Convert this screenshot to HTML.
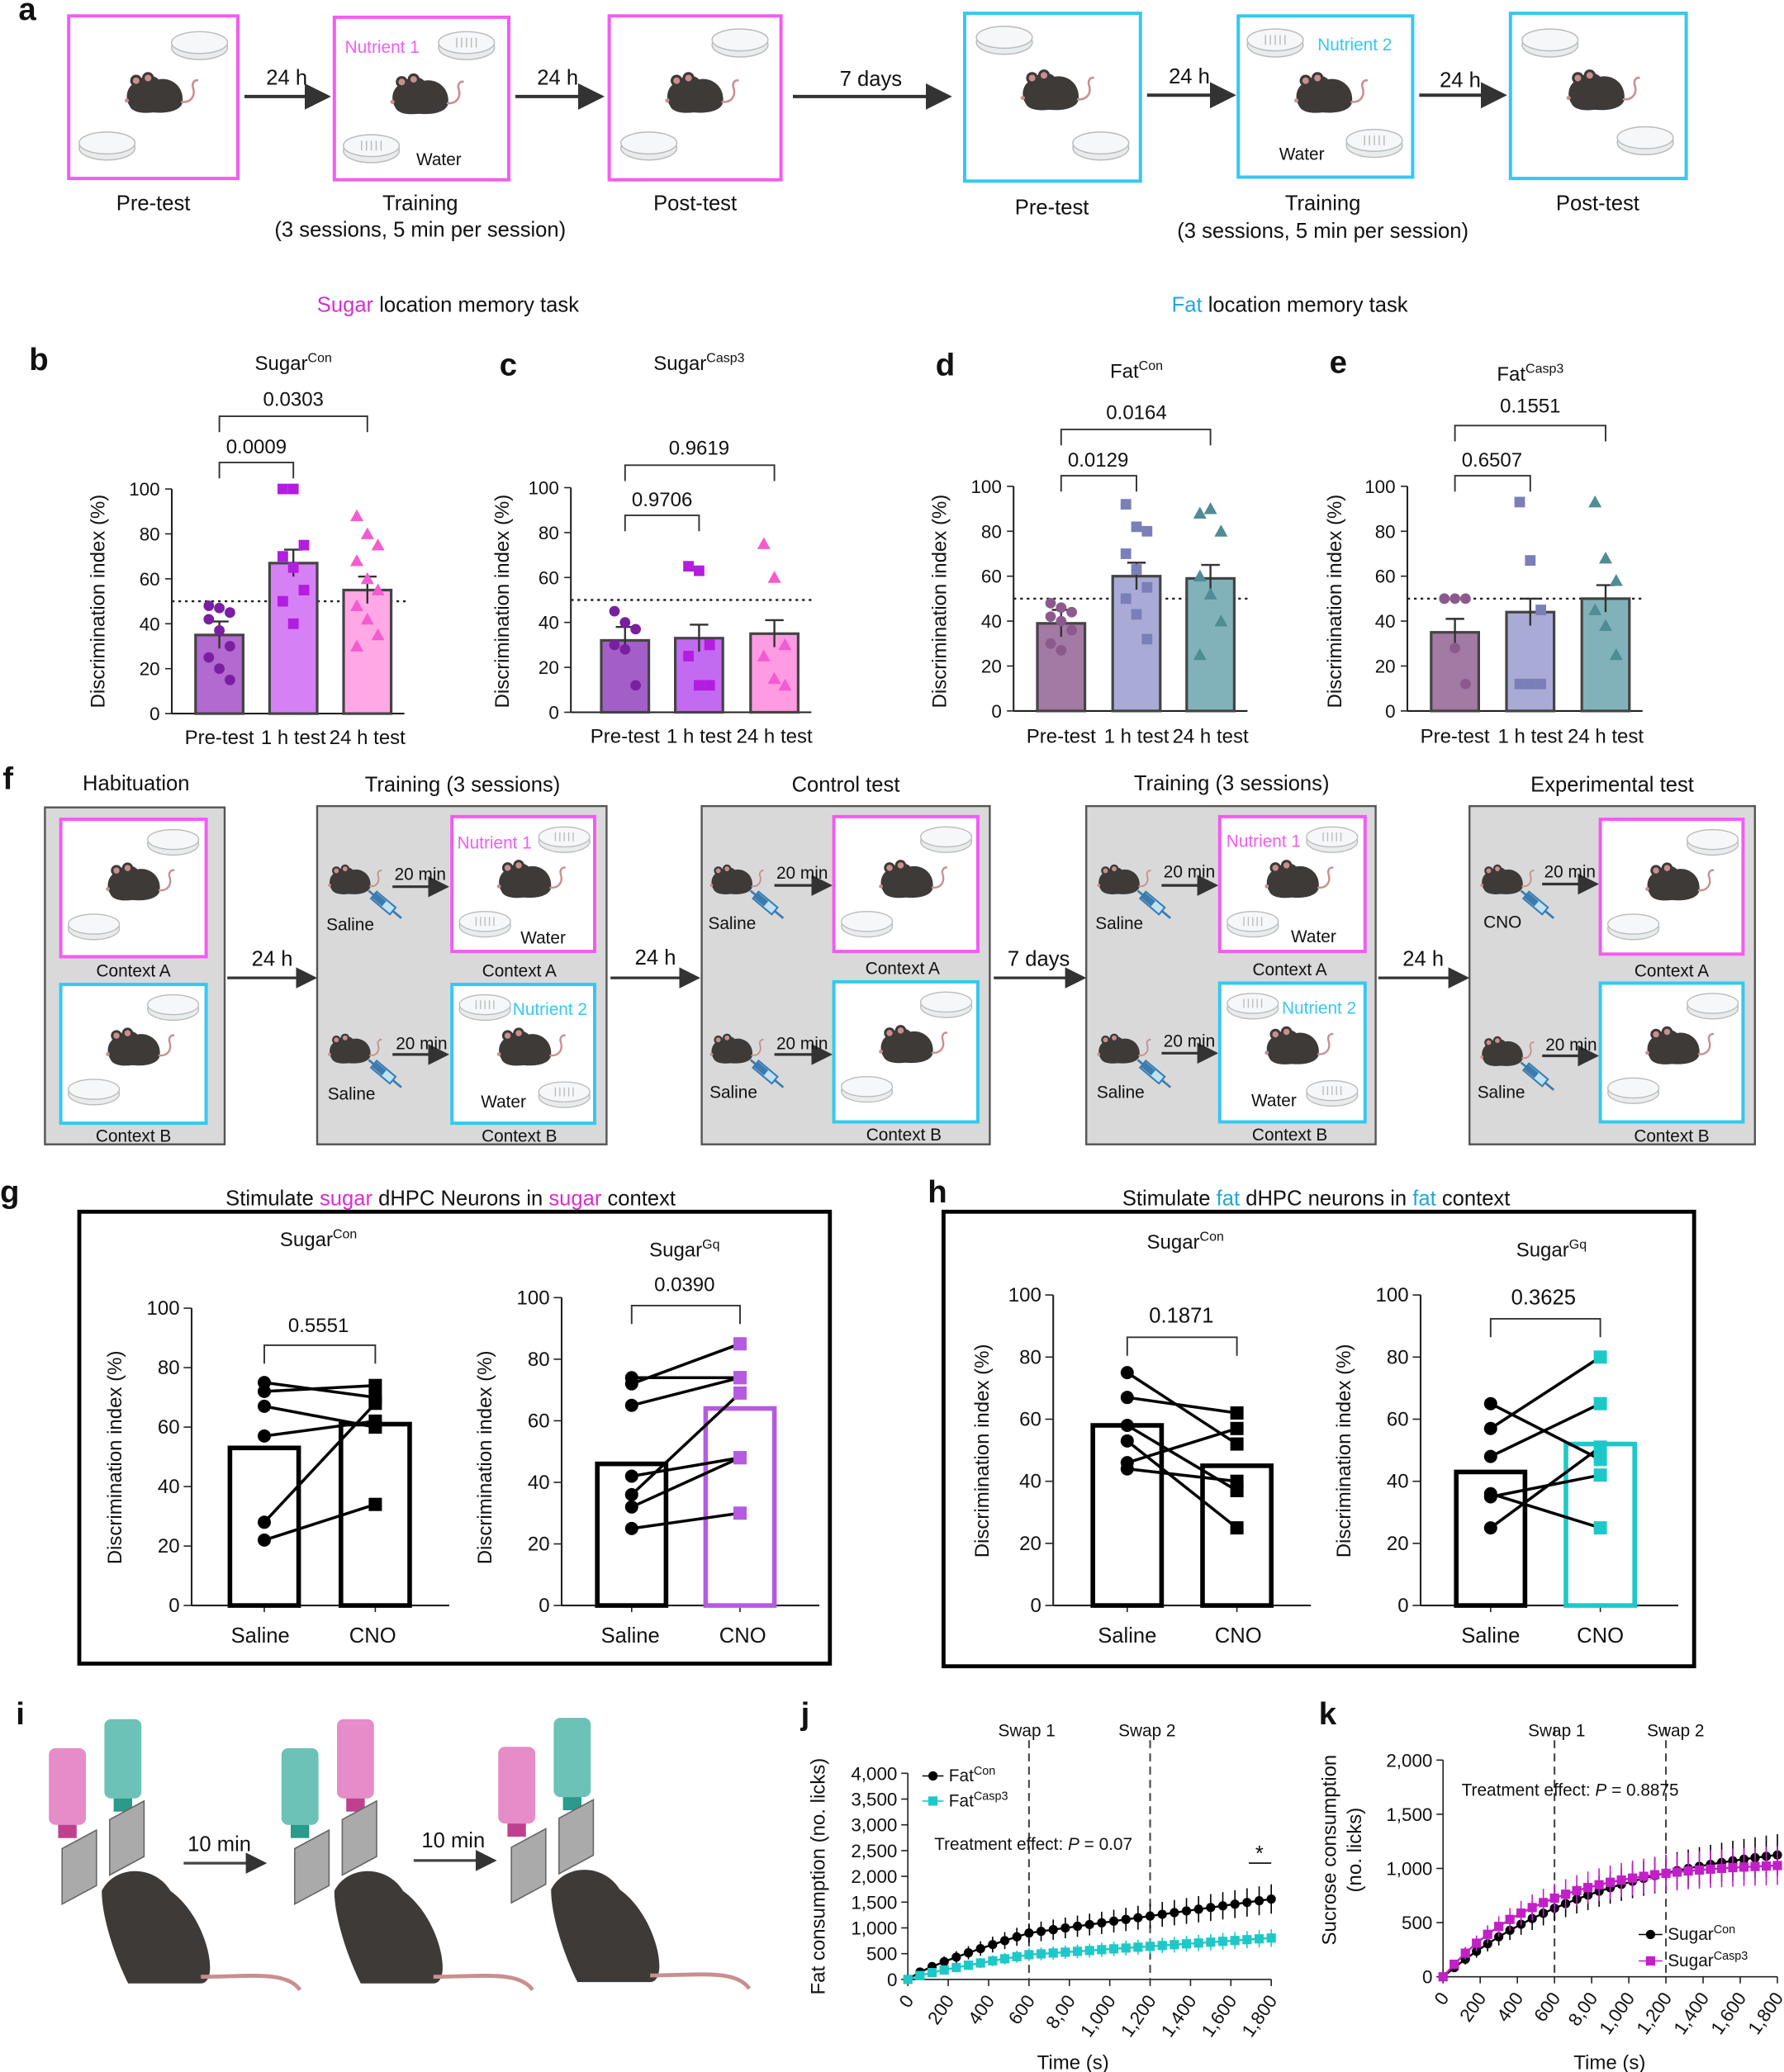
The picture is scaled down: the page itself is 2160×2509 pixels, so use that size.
<!DOCTYPE html>
<html><head><meta charset="utf-8">
<style>
html,body{margin:0;padding:0;background:#fff;}
svg{display:block;}
text{font-family:"Liberation Sans",Arial,sans-serif;fill:#111;}
.p{font-weight:bold;font-size:24px;}
.t{font-size:15px;}
.s{font-size:13px;}
.m{font-size:16px;}
</style></head><body>
<svg id="S" width="2160" height="2509" viewBox="0 0 1350 1568" xmlns="http://www.w3.org/2000/svg">
<defs>
<symbol id="mouse" viewBox="0 0 60 40">
 <path d="M8 28 C4 22 6 12 14 10 C18 4 26 4 30 8 C40 6 50 14 48 26 C46 32 36 34 26 33 C18 34 10 33 8 28Z" fill="#3d3a38"/>
 <circle cx="13" cy="9" r="4.5" fill="#3d3a38"/><circle cx="13" cy="9" r="2.5" fill="#c98f8f"/>
 <circle cx="22" cy="7" r="4.5" fill="#3d3a38"/><circle cx="22" cy="7" r="2.5" fill="#c98f8f"/>
 <path d="M47 25 C55 26 58 20 56 14 C55 10 58 8 60 9" fill="none" stroke="#c98f8f" stroke-width="1.6"/>
 <circle cx="6" cy="24" r="1.6" fill="#c98f8f"/>
</symbol>
<symbol id="dish" viewBox="0 0 50 26">
 <ellipse cx="25" cy="15" rx="23" ry="10" fill="#e9eced" stroke="#bbb"/>
 <ellipse cx="25" cy="11" rx="23" ry="9" fill="#f6f7f8" stroke="#bbb"/>
</symbol>
<symbol id="dishg" viewBox="0 0 50 26">
 <ellipse cx="25" cy="15" rx="23" ry="10" fill="#e9eced" stroke="#bbb"/>
 <ellipse cx="25" cy="11" rx="23" ry="9" fill="#f6f7f8" stroke="#bbb"/>
 <g stroke="#bbb" stroke-width="1"><line x1="17" y1="7" x2="17" y2="15"/><line x1="21" y1="7" x2="21" y2="15"/><line x1="25" y1="7" x2="25" y2="15"/><line x1="29" y1="7" x2="29" y2="15"/><line x1="33" y1="7" x2="33" y2="15"/></g>
</symbol>
<symbol id="syr" viewBox="0 0 40 30">
 <g transform="rotate(40 20 15)"><rect x="6" y="11" width="22" height="8" fill="#bfe3f5" stroke="#3a7bb0" stroke-width="1.5"/><rect x="6" y="12" width="12" height="6" fill="#3a7bb0"/><line x1="28" y1="15" x2="38" y2="15" stroke="#3a7bb0" stroke-width="2"/><line x1="0" y1="15" x2="6" y2="15" stroke="#3a7bb0" stroke-width="2"/></g>
</symbol>
<marker id="ar" markerWidth="8" markerHeight="8" refX="7" refY="4" orient="auto"><path d="M0 0 L8 4 L0 8Z" fill="#333"/></marker>
</defs>

<!-- PANEL A -->
<g fill="none" stroke-width="2.5">
<rect x="52" y="12" width="128" height="123" stroke="#f25cf0"/>
<rect x="253" y="13" width="132" height="123" stroke="#f25cf0"/>
<rect x="461" y="12" width="130" height="124" stroke="#f25cf0"/>
<rect x="730" y="10" width="133" height="127" stroke="#35c8f0"/>
<rect x="937" y="12" width="132" height="122" stroke="#35c8f0"/>
<rect x="1143" y="10" width="133" height="125" stroke="#35c8f0"/>
</g>
<!-- PANEL F boxes -->
<g fill="#d9d9d9" stroke="#555" stroke-width="1.5">
<rect x="34" y="611" width="136" height="255"/><rect x="240" y="610" width="219" height="256"/>
<rect x="531" y="610" width="218" height="256"/><rect x="822" y="610" width="219" height="256"/>
<rect x="1112" y="610" width="216" height="256"/>
</g>
<g fill="#fff" stroke-width="2.5">
<rect x="46" y="620" width="110" height="104" stroke="#f25cf0"/><rect x="46" y="745" width="110" height="105" stroke="#35c8f0"/>
<rect x="342" y="618" width="108" height="102" stroke="#f25cf0"/><rect x="342" y="745" width="108" height="105" stroke="#35c8f0"/>
<rect x="631" y="618" width="109" height="102" stroke="#f25cf0"/><rect x="631" y="743" width="109" height="106" stroke="#35c8f0"/>
<rect x="923" y="618" width="110" height="102" stroke="#f25cf0"/><rect x="923" y="744" width="110" height="105" stroke="#35c8f0"/>
<rect x="1211" y="620" width="108" height="102" stroke="#f25cf0"/><rect x="1211" y="744" width="108" height="105" stroke="#35c8f0"/>
</g>
<g id="G"></g>

<text class="p" x="14" y="15">a</text>
<g stroke="#333" stroke-width="2.5" marker-end="url(#ar)">
<line x1="185" y1="73" x2="248" y2="73"/><line x1="390" y1="73" x2="455" y2="73"/>
<line x1="600" y1="73" x2="718" y2="73"/><line x1="868" y1="72" x2="933" y2="72"/><line x1="1074" y1="72" x2="1138" y2="72"/>
</g>
<text class="m" x="217" y="64" text-anchor="middle">24 h</text>
<text class="m" x="422" y="64" text-anchor="middle">24 h</text>
<text class="m" x="659" y="65" text-anchor="middle">7 days</text>
<text class="m" x="900" y="63" text-anchor="middle">24 h</text>
<text class="m" x="1105" y="66" text-anchor="middle">24 h</text>
<text class="s" x="261" y="40" style="fill:#f25cf0">Nutrient 1</text>
<text class="s" x="315" y="125">Water</text>
<text class="s" x="997" y="38" style="fill:#35c8f0">Nutrient 2</text>
<text class="s" x="968" y="121">Water</text>
<text class="m" x="116" y="159" text-anchor="middle">Pre-test</text>
<text class="m" x="318" y="159" text-anchor="middle">Training</text>
<text class="m" x="318" y="179" text-anchor="middle">(3 sessions, 5 min per session)</text>
<text class="m" x="526" y="159" text-anchor="middle">Post-test</text>
<text class="m" x="796" y="162" text-anchor="middle">Pre-test</text>
<text class="m" x="1001" y="159" text-anchor="middle">Training</text>
<text class="m" x="1001" y="180" text-anchor="middle">(3 sessions, 5 min per session)</text>
<text class="m" x="1209" y="159" text-anchor="middle">Post-test</text>
<text class="m" x="339" y="236" text-anchor="middle"><tspan style="fill:#d62fd0">Sugar</tspan> location memory task</text>
<text class="m" x="976" y="236" text-anchor="middle"><tspan style="fill:#1fa8d8">Fat</tspan> location memory task</text>

<!-- PANELS B-E static text -->
<text class="p" x="22" y="280">b</text><text class="p" x="378" y="284">c</text>
<text class="p" x="708" y="284">d</text><text class="p" x="1006" y="282">e</text>
<text class="t" x="222" y="280" text-anchor="middle">Sugar<tspan dy="-6" font-size="10">Con</tspan></text>
<text class="t" x="529" y="280" text-anchor="middle">Sugar<tspan dy="-6" font-size="10">Casp3</tspan></text>
<text class="t" x="860" y="286" text-anchor="middle">Fat<tspan dy="-6" font-size="10">Con</tspan></text>
<text class="t" x="1158" y="288" text-anchor="middle">Fat<tspan dy="-6" font-size="10">Casp3</tspan></text>
<text class="t" x="194" y="343" text-anchor="middle">0.0009</text><text class="t" x="222" y="307" text-anchor="middle">0.0303</text>
<text class="t" x="501" y="383" text-anchor="middle">0.9706</text><text class="t" x="529" y="344" text-anchor="middle">0.9619</text>
<text class="t" x="831" y="353" text-anchor="middle">0.0129</text><text class="t" x="860" y="317" text-anchor="middle">0.0164</text>
<text class="t" x="1129" y="353" text-anchor="middle">0.6507</text><text class="t" x="1158" y="312" text-anchor="middle">0.1551</text>
<g class="t" text-anchor="middle">
<text x="166" y="563" class="t">Pre-test</text><text x="222" y="563" class="t">1 h test</text><text x="278" y="563" class="t">24 h test</text>
<text x="473" y="562" class="t">Pre-test</text><text x="529" y="562" class="t">1 h test</text><text x="586" y="562" class="t">24 h test</text>
<text x="803" y="562" class="t">Pre-test</text><text x="860" y="562" class="t">1 h test</text><text x="916" y="562" class="t">24 h test</text>
<text x="1101" y="562" class="t">Pre-test</text><text x="1158" y="562" class="t">1 h test</text><text x="1215" y="562" class="t">24 h test</text>
</g>
<text class="t" transform="translate(79 455) rotate(-90)" text-anchor="middle">Discrimination index (%)</text>
<text class="t" transform="translate(385 455) rotate(-90)" text-anchor="middle">Discrimination index (%)</text>
<text class="t" transform="translate(716 455) rotate(-90)" text-anchor="middle">Discrimination index (%)</text>
<text class="t" transform="translate(1015 455) rotate(-90)" text-anchor="middle">Discrimination index (%)</text>

<!-- PANEL F -->
<text class="p" x="2" y="597">f</text>
<text class="m" x="103" y="598" text-anchor="middle">Habituation</text>
<text class="m" x="350" y="599" text-anchor="middle">Training (3 sessions)</text>
<text class="m" x="640" y="599" text-anchor="middle">Control test</text>
<text class="m" x="932" y="598" text-anchor="middle">Training (3 sessions)</text>
<text class="m" x="1220" y="599" text-anchor="middle">Experimental test</text>
<g stroke="#333" stroke-width="2" marker-end="url(#ar)">
<line x1="172" y1="740" x2="238" y2="740"/><line x1="462" y1="740" x2="528" y2="740"/>
<line x1="752" y1="740" x2="820" y2="740"/><line x1="1043" y1="740" x2="1110" y2="740"/>
<line x1="297" y1="671" x2="338" y2="671"/><line x1="297" y1="798" x2="338" y2="798"/>
<line x1="586" y1="670" x2="628" y2="670"/><line x1="586" y1="798" x2="628" y2="798"/>
<line x1="879" y1="670" x2="920" y2="670"/><line x1="879" y1="797" x2="920" y2="797"/>
<line x1="1167" y1="669" x2="1208" y2="669"/><line x1="1167" y1="799" x2="1208" y2="799"/>
</g>
<text class="m" x="206" y="731" text-anchor="middle">24 h</text><text class="m" x="496" y="730" text-anchor="middle">24 h</text>
<text class="m" x="786" y="731" text-anchor="middle">7 days</text><text class="m" x="1077" y="731" text-anchor="middle">24 h</text>
<g class="s" text-anchor="middle">
<text x="101" y="739" class="s">Context A</text><text x="101" y="864" class="s">Context B</text>
<text x="393" y="739" class="s">Context A</text><text x="393" y="864" class="s">Context B</text>
<text x="683" y="737" class="s">Context A</text><text x="684" y="863" class="s">Context B</text>
<text x="976" y="738" class="s">Context A</text><text x="976" y="863" class="s">Context B</text>
<text x="1265" y="739" class="s">Context A</text><text x="1265" y="864" class="s">Context B</text>
<text x="318" y="666" class="s">20 min</text><text x="319" y="794" class="s">20 min</text>
<text x="607" y="665" class="s">20 min</text><text x="607" y="794" class="s">20 min</text>
<text x="900" y="664" class="s">20 min</text><text x="900" y="792" class="s">20 min</text>
<text x="1188" y="664" class="s">20 min</text><text x="1189" y="795" class="s">20 min</text>
<text x="265" y="704" class="s">Saline</text><text x="266" y="832" class="s">Saline</text>
<text x="554" y="703" class="s">Saline</text><text x="555" y="831" class="s">Saline</text>
<text x="847" y="703" class="s">Saline</text><text x="848" y="831" class="s">Saline</text>
<text x="1137" y="702" class="s">CNO</text><text x="1136" y="831" class="s">Saline</text>
<text x="411" y="714" class="s">Water</text><text x="381" y="838" class="s">Water</text>
<text x="994" y="713" class="s">Water</text><text x="964" y="837" class="s">Water</text>
</g>
<text class="s" x="346" y="642" style="fill:#f25cf0">Nutrient 1</text>
<text class="s" x="388" y="768" style="fill:#35c8f0">Nutrient 2</text>
<text class="s" x="928" y="641" style="fill:#f25cf0">Nutrient 1</text>
<text class="s" x="970" y="767" style="fill:#35c8f0">Nutrient 2</text>

<!-- PANEL G/H -->
<text class="p" x="0" y="910">g</text><text class="p" x="702" y="910">h</text>
<text class="m" x="341" y="912" text-anchor="middle">Stimulate <tspan style="fill:#d62fd0">sugar</tspan> dHPC Neurons in <tspan style="fill:#d62fd0">sugar</tspan> context</text>
<text class="m" x="996" y="912" text-anchor="middle">Stimulate <tspan style="fill:#1fa8d8">fat</tspan> dHPC neurons in <tspan style="fill:#1fa8d8">fat</tspan> context</text>
<rect x="60" y="917" width="568" height="342" fill="none" stroke="#000" stroke-width="3"/>
<rect x="714" y="917" width="568" height="344" fill="none" stroke="#000" stroke-width="3"/>
<text class="t" x="241" y="943" text-anchor="middle">Sugar<tspan dy="-6" font-size="10">Con</tspan></text>
<text class="t" x="518" y="951" text-anchor="middle">Sugar<tspan dy="-6" font-size="10">Gq</tspan></text>
<text class="t" x="897" y="945" text-anchor="middle">Sugar<tspan dy="-6" font-size="10">Con</tspan></text>
<text class="t" x="1174" y="951" text-anchor="middle">Sugar<tspan dy="-6" font-size="10">Gq</tspan></text>
<text class="t" x="241" y="1008" text-anchor="middle">0.5551</text>
<text class="t" x="518" y="977" text-anchor="middle">0.0390</text>
<text class="m" x="894" y="1001" text-anchor="middle">0.1871</text>
<text class="m" x="1168" y="987" text-anchor="middle">0.3625</text>
<g class="m" text-anchor="middle">
<text x="197" y="1243" class="m">Saline</text><text x="282" y="1243" class="m">CNO</text>
<text x="477" y="1243" class="m">Saline</text><text x="562" y="1243" class="m">CNO</text>
<text x="853" y="1243" class="m">Saline</text><text x="937" y="1243" class="m">CNO</text>
<text x="1128" y="1243" class="m">Saline</text><text x="1211" y="1243" class="m">CNO</text>
</g>
<text class="t" transform="translate(92 1103) rotate(-90)" text-anchor="middle">Discrimination index (%)</text>
<text class="t" transform="translate(372 1103) rotate(-90)" text-anchor="middle">Discrimination index (%)</text>
<text class="t" transform="translate(748 1098) rotate(-90)" text-anchor="middle">Discrimination index (%)</text>
<text class="t" transform="translate(1022 1098) rotate(-90)" text-anchor="middle">Discrimination index (%)</text>

<!-- PANEL I -->
<text class="p" x="12" y="1305">i</text>
<text class="m" x="166" y="1401" text-anchor="middle">10 min</text>
<text class="m" x="343" y="1398" text-anchor="middle">10 min</text>
<g stroke="#444" stroke-width="2" marker-end="url(#ar)"><line x1="139" y1="1410" x2="200" y2="1410"/><line x1="313" y1="1408" x2="374" y2="1408"/></g>

<!-- PANEL J -->
<text class="p" x="606" y="1305">j</text>
<text class="s" x="777" y="1314" text-anchor="middle">Swap 1</text><text class="s" x="868" y="1314" text-anchor="middle">Swap 2</text>
<text class="t" x="624" y="1420" transform="rotate(-90 624 1420)" text-anchor="middle">Fat consumption (no. licks)</text>
<text class="s" x="707" y="1400">Treatment effect: <tspan font-style="italic">P</tspan> = 0.07</text>
<text class="s" x="718" y="1348">Fat<tspan dy="-5" font-size="9">Con</tspan></text>
<text class="s" x="718" y="1367">Fat<tspan dy="-5" font-size="9">Casp3</tspan></text>
<text class="m" x="953" y="1408" text-anchor="middle">*</text>
<text class="t" x="812" y="1566" text-anchor="middle">Time (s)</text>

<!-- PANEL K -->
<text class="p" x="998" y="1305">k</text>
<text class="s" x="1178" y="1314" text-anchor="middle">Swap 1</text><text class="s" x="1268" y="1314" text-anchor="middle">Swap 2</text>
<text class="t" x="1011" y="1400" transform="rotate(-90 1011 1400)" text-anchor="middle">Sucrose consumption</text>
<text class="t" x="1030" y="1400" transform="rotate(-90 1030 1400)" text-anchor="middle">(no. licks)</text>
<text class="s" x="1106" y="1359">Treatment effect: <tspan font-style="italic">P</tspan> = 0.8875</text>
<text class="s" x="1262" y="1468">Sugar<tspan dy="-5" font-size="9">Con</tspan></text>
<text class="s" x="1262" y="1488">Sugar<tspan dy="-5" font-size="9">Casp3</tspan></text>
<text class="t" x="1218" y="1566" text-anchor="middle">Time (s)</text>
</svg>
<script>
var G=document.getElementById('G'),NS='http://www.w3.org/2000/svg';
function el(t,a,p){var e=document.createElementNS(NS,t);for(var k in a)e.setAttribute(k,a[k]);(p||G).appendChild(e);return e;}
function use(id,x,y,w,h){el('use',{href:'#'+id,x:x,y:y,width:w,height:h});}
[[52,12],[253,13],[461,12],[730,10],[937,12],[1143,10]].forEach(function(b){use('mouse',b[0]+38,b[1]+40,60,40);});
use('dish',128,22,46,24);use('dish',58,98,46,24);
use('dishg',330,22,46,24);use('dishg',258,100,46,24);
use('dish',537,20,46,24);use('dish',468,98,46,24);
use('dish',737,18,46,24);use('dish',810,98,46,24);
use('dishg',942,20,46,24);use('dishg',1017,96,46,24);
use('dish',1150,20,46,24);use('dish',1222,94,46,24);
function box(x,y,g,flip){use('mouse',x+30,y+30,56,38);
 if(flip){use(g?'dishg':'dish',x+4,y+6,42,22);use(g?'dishg':'dish',x+64,y+72,42,22);}
 else{use(g?'dishg':'dish',x+64,y+6,42,22);use(g?'dishg':'dish',x+4,y+70,42,22);}}
box(46,620);box(46,745);box(342,618,1);box(342,745,1,1);box(631,618);box(631,743);
box(923,618,1);box(923,744,1,1);box(1211,620);box(1211,744);
[[245,652],[245,780],[534,652],[534,780],[827,652],[827,780],[1117,652],[1117,782]].forEach(function(p){use('mouse',p[0],p[1],44,30);use('syr',p[0]+30,p[1]+20,34,26);});
function tl(x,y,s,a,fs){var t=el('text',{x:x,y:y,'text-anchor':a||'end','font-size':fs||14});t.textContent=s;}
function bars(ax,y0,xs,vals,cols,pts,shapes,br){
 var sc=1.7;
 el('line',{x1:ax,y1:y0-170,x2:ax,y2:y0,stroke:'#222','stroke-width':1.3});
 el('line',{x1:ax,y1:y0,x2:xs[2]+28,y2:y0,stroke:'#222','stroke-width':1.3});
 for(var v=0;v<=100;v+=20){var y=y0-v*sc;el('line',{x1:ax-5,y1:y,x2:ax,y2:y,stroke:'#222'});tl(ax-9,y+5,''+v);}
 el('line',{x1:ax,y1:y0-85,x2:xs[2]+30,y2:y0-85,stroke:'#222','stroke-dasharray':'2,3','stroke-width':1.5});
 for(var i=0;i<3;i++){
  var h=vals[i]*sc;el('rect',{x:xs[i]-18,y:y0-h,width:36,height:h,fill:cols[i][0],stroke:'#444','stroke-width':2});
  var se=6*sc;el('line',{x1:xs[i],y1:y0-h-se,x2:xs[i],y2:y0-h+se,stroke:'#333','stroke-width':1.5});
  el('line',{x1:xs[i]-7,y1:y0-h-se,x2:xs[i]+7,y2:y0-h-se,stroke:'#333','stroke-width':1.5});
  pts[i].forEach(function(p,j){var x=xs[i]+((j%3)-1)*8,y=y0-p*sc;
   if(shapes[i]==0)el('circle',{cx:x,cy:y,r:4,fill:cols[i][1]});
   else if(shapes[i]==1)el('rect',{x:x-4,y:y-4,width:8,height:8,fill:cols[i][1]});
   else el('path',{d:'M'+x+' '+(y-5)+' L'+(x+5)+' '+(y+4)+' L'+(x-5)+' '+(y+4)+'Z',fill:cols[i][1]});});
 }
 br.forEach(function(b){el('polyline',{points:b[0]+','+(b[2]+12)+' '+b[0]+','+b[2]+' '+b[1]+','+b[2]+' '+b[1]+','+(b[2]+12),fill:'none',stroke:'#333','stroke-width':1.2});});
}
bars(130,540,[166,222,278],[35,67,55],[['#b36ad0','#7a1fa2'],['#d680f5','#b21de0'],['#ffa8e5','#f25cd0']],
 [[48,47,45,42,37,30,25,20,15],[100,100,75,70,65,55,50,40],[88,80,75,68,60,55,48,42,35,30]],[0,1,2],
 [[166,222,350],[166,278,315]]);
bars(432,539,[473,529,586],[32,33,35],[['#a35fc7','#7a1fa2'],['#c36bf0','#b21de0'],['#ff9be2','#f25cd0']],
 [[45,40,37,30,28,12],[65,63,30,25,12,12],[75,60,30,25,15,12]],[0,1,2],[[473,529,390],[473,586,352]]);
bars(767,538,[803,860,916],[39,60,59],[['#a27aa3','#8b5a8c'],['#a9abd6','#7b7fb8'],['#82b2b9','#4f8c94']],
 [[48,46,44,42,40,36,30,27],[92,82,80,70,63,55,50,43,32],[88,90,80,60,52,40,25]],[0,1,2],[[803,860,360],[803,916,325]]);
bars(1065,538,[1101,1158,1215],[35,44,50],[['#a27aa3','#8b5a8c'],['#a9abd6','#7b7fb8'],['#82b2b9','#4f8c94']],
 [[50,50,50,50,28,12],[93,67,45,12,12,12],[93,68,58,45,38,25]],[0,1,2],[[1101,1158,360],[1101,1215,322]]);
function paired(ax,y0,ytop,xs,vals,col2,sal,cno,br){
 var sc=(y0-ytop)/100;
 el('line',{x1:ax,y1:ytop,x2:ax,y2:y0,stroke:'#222','stroke-width':1.3});
 el('line',{x1:ax,y1:y0,x2:ax+195,y2:y0,stroke:'#222','stroke-width':1.3});
 for(var v=0;v<=100;v+=20){var y=y0-v*sc;el('line',{x1:ax-6,y1:y,x2:ax,y2:y,stroke:'#222'});tl(ax-9,y+5,''+v,'end',15);}
 xs.forEach(function(x){el('line',{x1:x,y1:y0,x2:x,y2:y0+5,stroke:'#222'});});
 el('rect',{x:xs[0]-26,y:y0-vals[0]*sc,width:52,height:vals[0]*sc,fill:'none',stroke:'#000','stroke-width':3.5});
 el('rect',{x:xs[1]-26,y:y0-vals[1]*sc,width:52,height:vals[1]*sc,fill:'none',stroke:col2,'stroke-width':3.5});
 sal.forEach(function(s,i){el('line',{x1:xs[0],y1:y0-s*sc,x2:xs[1],y2:y0-cno[i]*sc,stroke:'#000','stroke-width':2.2});});
 sal.forEach(function(s){el('circle',{cx:xs[0],cy:y0-s*sc,r:5,fill:'#000'});});
 cno.forEach(function(c){el('rect',{x:xs[1]-5,y:y0-c*sc-5,width:10,height:10,fill:col2});});
 el('polyline',{points:xs[0]+','+(br+14)+' '+xs[0]+','+br+' '+xs[1]+','+br+' '+xs[1]+','+(br+14),fill:'none',stroke:'#333','stroke-width':1.2});
}
paired(145,1215,990,[200,284],[53,61],'#000',[75,72,67,57,28,22],[70,74,60,62,68,34],1018);
paired(425,1215,982,[478,560],[46,64],'#b45be0',[74,72,65,42,36,32,25],[74,85,74,48,69,48,30],988);
paired(797,1215,980,[853,936],[58,45],'#000',[75,67,58,53,46,44],[52,62,37,25,57,40],1012);
paired(1075,1215,980,[1128,1211],[43,52],'#1ec8c8',[65,57,48,36,35,25],[47,80,65,25,42,51],998);
function station(x,y,first){
 var c1=first?'#e68cc8':'#6cc2b6',c2=first?'#6cc2b6':'#e68cc8';
 el('rect',{x:x,y:y+22,width:28,height:58,rx:5,fill:c1});el('rect',{x:x+7,y:y+80,width:14,height:10,fill:first?'#c04090':'#2a9a8a'});
 el('rect',{x:x+42,y:y,width:28,height:60,rx:5,fill:c2});el('rect',{x:x+49,y:y+60,width:14,height:10,fill:first?'#2a9a8a':'#c04090'});
 el('path',{d:'M'+(x+10)+' '+(y+98)+' l26 -14 v42 l-26 14z',fill:'#aaa',stroke:'#666'});
 el('path',{d:'M'+(x+46)+' '+(y+76)+' l26 -14 v42 l-26 14z',fill:'#aaa',stroke:'#666'});
 el('path',{d:'M'+(x+40)+' '+(y+130)+' C'+(x+50)+' '+(y+110)+' '+(x+80)+' '+(y+110)+' '+(x+92)+' '+(y+130)+' C'+(x+120)+' '+(y+150)+' '+(x+130)+' '+(y+200)+' '+(x+115)+' '+(y+200)+' L'+(x+60)+' '+(y+200)+' C'+(x+50)+' '+(y+180)+' '+(x+40)+' '+(y+150)+' '+(x+40)+' '+(y+130)+'Z',fill:'#3d3a38'});
 el('path',{d:'M'+(x+115)+' '+(y+195)+' C'+(x+150)+' '+(y+195)+' '+(x+180)+' '+(y+190)+' '+(x+190)+' '+(y+205),fill:'none',stroke:'#c98f8f','stroke-width':3});
}
station(37,1301,true);station(213,1301,false);station(377,1300,true);
function lc(ax,y0,ytop,xr,ymax,ystep,labs,s1,s2,c2,swap){
 var sc=(y0-ytop)/ymax, xs=(xr-ax)/1800;
 el('line',{x1:ax,y1:ytop,x2:ax,y2:y0,stroke:'#222'});el('line',{x1:ax,y1:y0,x2:xr,y2:y0,stroke:'#222'});
 labs.forEach(function(l,i){var y=y0-i*ystep*sc;el('line',{x1:ax-5,y1:y,x2:ax,y2:y,stroke:'#222'});tl(ax-8,y+5,l,'end',14);});
 for(var t=0;t<=1800;t+=200){var x=ax+t*xs;el('line',{x1:x,y1:y0,x2:x,y2:y0+5,stroke:'#222'});
  var tx=el('text',{x:x+5,y:y0+16,'text-anchor':'end','font-size':14,transform:'rotate(-55 '+(x+5)+' '+(y0+16)+')'});tx.textContent=t==0?'0':(t>=1000?(Math.floor(t/1000)+','+String(t%1000).padStart(3,'0')):(t==800?'8,00':''+t));}
 swap.forEach(function(s){el('line',{x1:ax+s*xs,y1:ytop-25,x2:ax+s*xs,y2:y0,stroke:'#444','stroke-dasharray':'6,4','stroke-width':1.3});});
 [[s1,'#000',0],[s2,c2,1]].forEach(function(d){var pts=[];
  for(var i=0;i<=30;i++){var t=i*60,v=d[0](t),x=ax+t*xs,y=y0-v*sc;pts.push(x+','+y);
   var e=v*0.15*sc+2;el('line',{x1:x,y1:y-e,x2:x,y2:y+e,stroke:d[1],'stroke-width':1});}
  el('polyline',{points:pts.join(' '),fill:'none',stroke:d[1],'stroke-width':1.5});
  pts.forEach(function(p){var q=p.split(',');if(d[2])el('rect',{x:q[0]-3.5,y:q[1]-3.5,width:7,height:7,fill:d[1]});else el('circle',{cx:q[0],cy:q[1],r:3.5,fill:d[1]});});
 });
}
lc(687,1498,1342,962,4000,500,['0','500','1,000','1,500','2,000','2,500','3,000','3,500','4,000'],
 function(t){return t<600?900*Math.pow(t/600,0.8):900+(t-600)*0.55;},
 function(t){return t<600?480*Math.pow(t/600,0.8):480+(t-600)*0.27;},'#1ec8c8',[600,1200]);
lc(1092,1496,1332,1345,2000,500,['0','500','1,000','1,500','2,000'],
 function(t){return 1300*(1-Math.exp(-t/900));},
 function(t){return 1060*(1-Math.exp(-t/520));},'#c21fc9',[600,1200]);
el('line',{x1:698,y1:1344,x2:714,y2:1344,stroke:'#000'});el('circle',{cx:706,cy:1344,r:3.5});
el('line',{x1:698,y1:1363,x2:714,y2:1363,stroke:'#1ec8c8'});el('rect',{x:702.5,y:1359.5,width:7,height:7,fill:'#1ec8c8'});
el('line',{x1:1240,y1:1464,x2:1258,y2:1464,stroke:'#000'});el('circle',{cx:1249,cy:1464,r:3.5});
el('line',{x1:1240,y1:1484,x2:1258,y2:1484,stroke:'#c21fc9'});el('rect',{x:1245.5,y:1480.5,width:7,height:7,fill:'#c21fc9'});
el('line',{x1:945,y1:1410,x2:962,y2:1410,stroke:'#000'});
</script>
</body></html>
